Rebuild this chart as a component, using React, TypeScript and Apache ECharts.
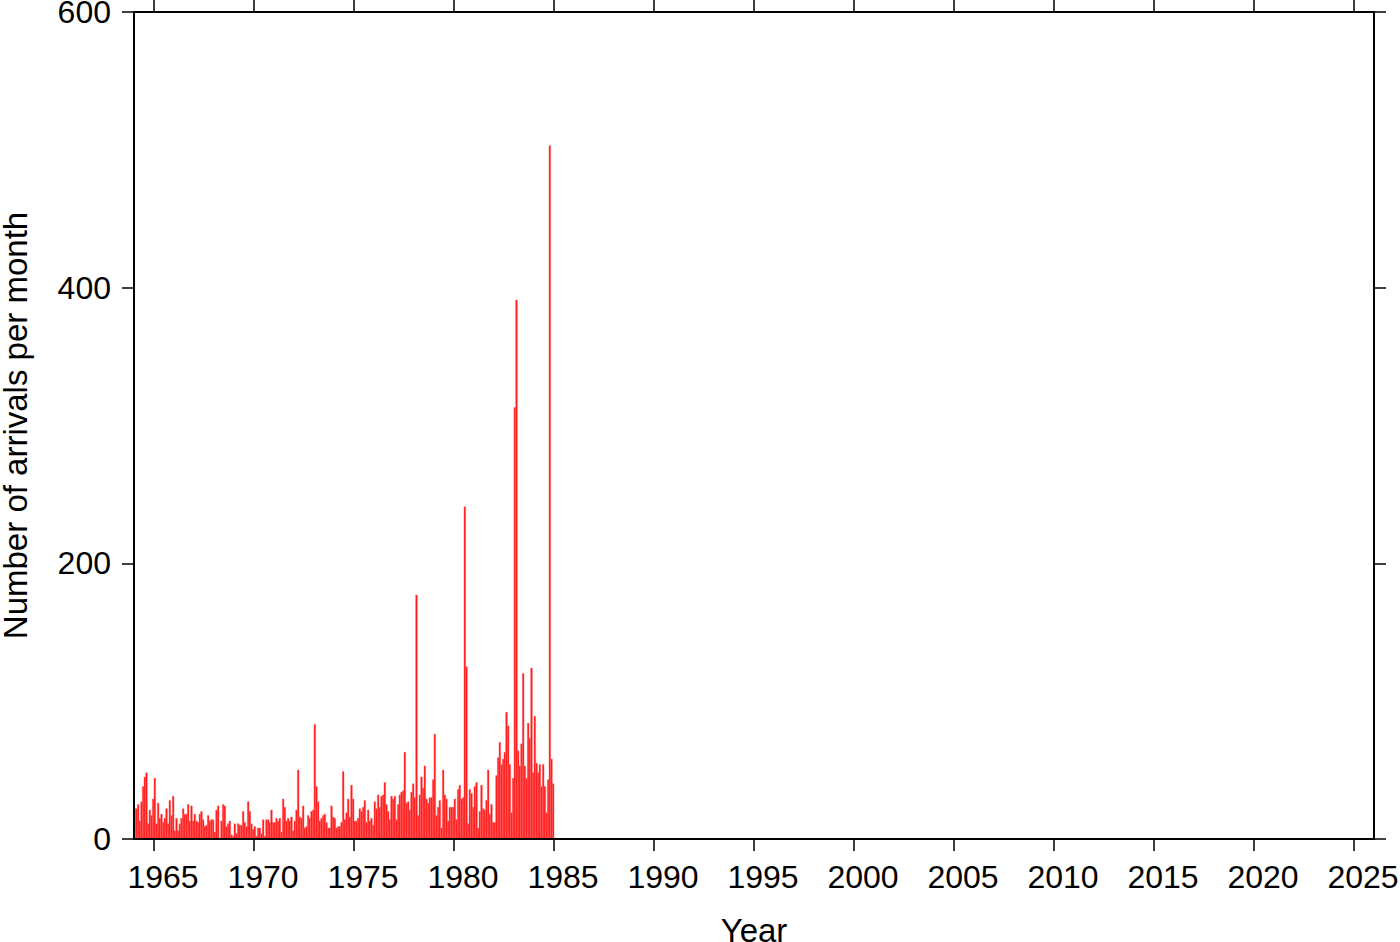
import React, { useEffect, useRef } from "react";
import * as echarts from "echarts";

// Monthly arrival counts, Jan 1964 .. Dec 1970 (84 months)
const counts1964to1970: number[] = [
  22, 22, 25, 13, 27, 38, 45, 48, 11, 21, 17, 29,
  44, 11, 26, 15, 18, 12, 15, 22, 11, 28, 17, 31,
  6, 15, 6, 11, 15, 22, 18, 18, 25, 13, 24, 13,
  18, 13, 12, 18, 20, 14, 9, 10, 17, 13, 14, 14,
  5, 21, 24, 0, 13, 25, 24, 9, 11, 13, 3, 2,
  11, 4, 11, 10, 10, 20, 12, 9, 27, 20, 11, 7,
  9, 2, 8, 8, 4, 14, 2, 14, 14, 12, 21, 12,
];

// Monthly arrival counts, Jan 1971 .. Dec 1977 (84 months)
const counts1971to1977: number[] = [
  12, 15, 13, 15, 5, 29, 23, 13, 15, 13, 16, 6,
  13, 21, 50, 16, 15, 24, 8, 9, 17, 15, 20, 21,
  83, 38, 27, 13, 15, 17, 18, 12, 8, 8, 24, 16,
  15, 8, 9, 9, 12, 49, 14, 19, 29, 16, 39, 29,
  13, 13, 15, 22, 20, 23, 28, 12, 21, 13, 15, 10,
  27, 22, 32, 23, 31, 32, 41, 25, 20, 14, 31, 29,
  31, 14, 25, 32, 34, 35, 63, 26, 27, 21, 34, 40,
];

// Monthly arrival counts, Jan 1978 .. Dec 1984 (84 months)
const counts1978to1984: number[] = [
  30, 177, 17, 32, 45, 37, 53, 29, 26, 30, 30, 43,
  76, 17, 23, 28, 8, 50, 32, 29, 13, 23, 23, 23,
  29, 14, 36, 39, 29, 30, 241, 125, 11, 36, 33, 23,
  38, 41, 8, 20, 39, 22, 21, 28, 50, 18, 25, 12,
  12, 46, 59, 70, 54, 58, 63, 92, 82, 54, 19, 44,
  313, 391, 64, 53, 69, 120, 53, 44, 84, 73, 124, 48,
  89, 55, 48, 54, 38, 54, 38, 19, 43, 503, 58, 40,
];

const startYear = 1964;
const tickYears: number[] = [
  1965, 1970, 1975, 1980, 1985, 1990, 1995, 2000, 2005, 2010, 2015, 2020, 2025,
];
const yTicks: number[] = [0, 200, 400, 600];

const FONT = "Liberation Sans";

export default function App() {
  const ref = useRef<HTMLDivElement>(null);

  useEffect(() => {
    if (!ref.current) return;
    const chart = echarts.init(ref.current, undefined, { renderer: "svg" });

    const allCounts = [...counts1964to1970, ...counts1971to1977, ...counts1978to1984];
    const data = allCounts.map((v, i) => [startYear + i / 12, v]);

    const axisLineStyle = { color: "#000", width: 2 };
    const tickStyle = { color: "#000", width: 1.5 };

    chart.setOption({
      animation: false,
      backgroundColor: "#fff",
      textStyle: { fontFamily: FONT },
      grid: {
        left: 134,
        right: 26,
        top: 12,
        bottom: 103,
        containLabel: false,
        outerBoundsMode: "none",
      },
      xAxis: [
        {
          type: "value",
          position: "bottom",
          min: 1964,
          max: 2026,
          z: 5,
          name: "Year",
          nameLocation: "middle",
          nameGap: 75,
          nameTextStyle: { fontSize: 33, color: "#000", fontFamily: FONT },
          axisLine: { show: true, onZero: false, lineStyle: axisLineStyle },
          axisTick: { show: true, length: 12, lineStyle: tickStyle, customValues: tickYears },
          axisLabel: {
            show: true,
            customValues: tickYears,
            fontSize: 32,
            color: "#000",
            fontFamily: FONT,
            margin: 22,
            padding: [0, 0, 0, 18],
            formatter: (v: number) => String(v),
          },
          splitLine: { show: false },
        },
        {
          type: "value",
          position: "top",
          min: 1964,
          max: 2026,
          z: 5,
          axisLine: { show: true, onZero: false, lineStyle: axisLineStyle },
          axisTick: { show: true, length: 12, lineStyle: tickStyle, customValues: tickYears },
          axisLabel: { show: false },
          splitLine: { show: false },
        },
      ],
      yAxis: [
        {
          type: "value",
          position: "left",
          min: 0,
          max: 600,
          interval: 200,
          z: 5,
          name: "Number of arrivals per month",
          nameLocation: "middle",
          nameGap: 102,
          nameTextStyle: { fontSize: 33, color: "#000", fontFamily: FONT },
          axisLine: { show: true, onZero: false, lineStyle: axisLineStyle },
          axisTick: { show: true, length: 12, lineStyle: tickStyle },
          axisLabel: {
            show: true,
            fontSize: 32,
            color: "#000",
            fontFamily: FONT,
            margin: 23,
            formatter: (v: number) => (yTicks.includes(v) ? String(v) : ""),
          },
          splitLine: { show: false },
        },
        {
          type: "value",
          position: "right",
          min: 0,
          max: 600,
          interval: 200,
          z: 5,
          axisLine: { show: true, onZero: false, lineStyle: axisLineStyle },
          axisTick: { show: true, length: 12, lineStyle: tickStyle },
          axisLabel: { show: false },
          splitLine: { show: false },
        },
      ],
      series: [
        {
          type: "custom",
          xAxisIndex: 0,
          yAxisIndex: 0,
          z: 2,
          data,
          renderItem: (params: any, api: any) => {
            const x0 = api.value(0);
            const v = api.value(1);
            const p0 = api.coord([x0, 0]);
            const p1 = api.coord([x0 + 1 / 12, v]);
            return {
              type: "rect",
              shape: {
                x: p0[0],
                y: p1[1],
                width: p1[0] - p0[0],
                height: p0[1] - p1[1],
              },
              style: { fill: "#ff0f0f", stroke: "#ff6a6a", lineWidth: 0.5 },
            };
          },
        },
      ],
    });

    return () => chart.dispose();
  }, []);

  return (
    <div
      ref={ref}
      style={{ position: "fixed", left: 0, top: 0, width: 1400, height: 942, background: "#fff" }}
    />
  );
}
